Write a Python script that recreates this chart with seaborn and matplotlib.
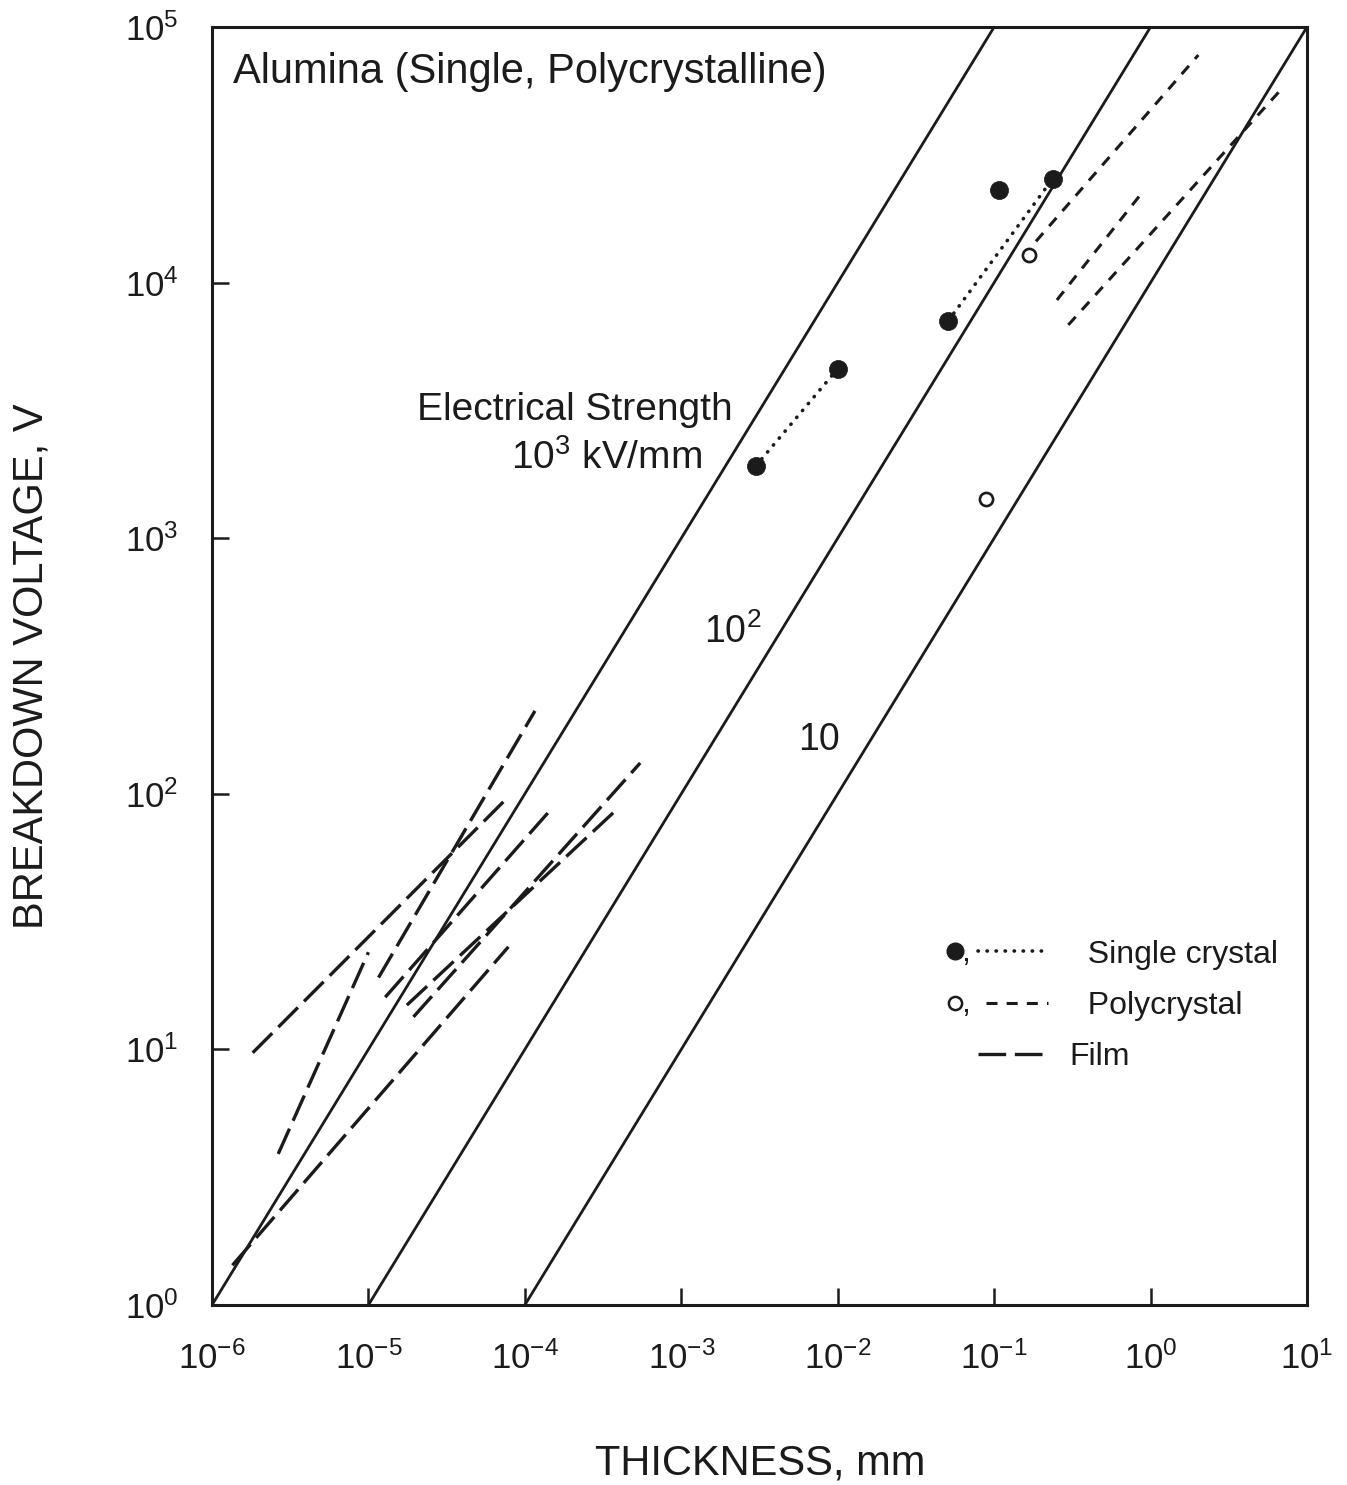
import numpy as np
import pandas as pd
import matplotlib
matplotlib.use("Agg")
import matplotlib.pyplot as plt
import seaborn as sns
from matplotlib.lines import Line2D
from matplotlib.text import Text
from matplotlib.legend_handler import HandlerBase
from matplotlib.ticker import NullLocator

# ---------------- data ----------------
# electrical strength reference lines (kV/mm): thickness (mm) / voltage (V) end points
strength_names = ["1e3", "1e2", "1e1"]
strength_t = [[1e-6, 1e-1], [1e-5, 1e0], [1e-4, 1e1]]
strength_v = [[1.0, 1e5], [1.0, 1e5], [1.0, 1e5]]

# single crystal points and dotted links
single_t = [3.0e-3, 1.0e-2, 5.1e-2, 1.07e-1, 2.37e-1]
single_v = [1.92e3, 4.6e3, 7.1e3, 2.3e4, 2.55e4]
single_link_t = [[3.0e-3, 1.0e-2], [5.1e-2, 2.37e-1]]
single_link_v = [[1.92e3, 4.6e3], [7.1e3, 2.55e4]]

# polycrystal points and dashed segments
poly_t = [1.66e-1, 8.9e-2]
poly_v = [1.28e4, 1.42e3]
poly_seg_t = [[0.185, 2.02], [0.252, 0.858], [0.298, 7.05]]
poly_seg_v = [[1.45e4, 7.77e4], [8.55e3, 2.2e4], [6.83e3, 5.82e4]]

# film segments (long dashes)
film_seg_t = [[1.82e-6, 7.8e-5], [2.65e-6, 1.0e-5], [1.16e-5, 1.16e-4],
              [1.28e-5, 1.52e-4], [1.76e-5, 3.96e-4], [1.94e-5, 5.46e-4],
              [1.35e-6, 7.85e-5]]
film_seg_v = [[9.7, 97.0], [3.9, 24.0], [19.1, 211.0],
              [16.0, 89.0], [14.9, 88.0], [13.4, 132.0],
              [1.43, 25.2]]

x_ticks = [1e-6, 1e-5, 1e-4, 1e-3, 1e-2, 1e-1, 1e0, 1e1]
y_ticks = [1e0, 1e1, 1e2, 1e3, 1e4, 1e5]

title_text = "Alumina (Single, Polycrystalline)"
x_label = "THICKNESS, mm"
y_label = "BREAKDOWN VOLTAGE, V"
legend_labels = ["  Single crystal", "  Polycrystal", "Film"]


def seg_frame(ts, vs):
    rows = []
    for i, (tt, vv) in enumerate(zip(ts, vs)):
        for a, b in zip(tt, vv):
            rows.append({"seg": i, "t": a, "v": b})
    return pd.DataFrame(rows)


INK = "#1b1b1b"

sns.set_theme(style="ticks")
plt.rcParams.update({
    "font.family": ["Liberation Sans", "DejaVu Sans"],
    "mathtext.fontset": "custom",
    "mathtext.rm": "Liberation Sans",
    "mathtext.it": "Liberation Sans:italic",
    "mathtext.bf": "Liberation Sans:bold",
    "mathtext.default": "regular",
    "axes.linewidth": 2.2,
    "axes.edgecolor": INK,
    "text.color": INK,
    "axes.labelcolor": INK,
    "xtick.color": INK,
    "ytick.color": INK,
})

fig = plt.figure(figsize=(13.47, 14.85), dpi=100)
ax = fig.add_axes([212 / 1347, 1 - 1305 / 1485, 1095 / 1347, 1278 / 1485])
ax.set_xscale("log")
ax.set_yscale("log")
ax.set_xlim(1e-6, 1e1)
ax.set_ylim(1, 1e5)

# strength lines
sns.lineplot(data=seg_frame(strength_t, strength_v), x="t", y="v", units="seg",
             estimator=None, sort=False, ax=ax, color=INK, lw=2.0, zorder=2)

# film lines
film_dash = (0, (8.3, 2.6))
sns.lineplot(data=seg_frame(film_seg_t, film_seg_v), x="t", y="v", units="seg",
             estimator=None, sort=False, ax=ax, color=INK, lw=2.4,
             linestyle=film_dash, zorder=3)

# polycrystal dashed lines
poly_dash = (0, (3.6, 3.0))
sns.lineplot(data=seg_frame(poly_seg_t, poly_seg_v), x="t", y="v", units="seg",
             estimator=None, sort=False, ax=ax, color=INK, lw=2.2,
             linestyle=poly_dash, zorder=3)

# single crystal dotted links
dot_style = (0, (0.1, 2.4))
sns.lineplot(data=seg_frame(single_link_t, single_link_v), x="t", y="v", units="seg",
             estimator=None, sort=False, ax=ax, color=INK, lw=2.6,
             linestyle=dot_style, dash_capstyle="round", zorder=3)

# markers
sns.scatterplot(x=single_t, y=single_v, ax=ax, s=170, color=INK,
                edgecolor=INK, linewidth=0.5, zorder=5)
sns.scatterplot(x=poly_t, y=poly_v, ax=ax, s=90, facecolor="white",
                edgecolor=INK, linewidth=1.9, zorder=5)

# axes formatting
ax.set_xticks(x_ticks)
ax.set_yticks(y_ticks)
ax.xaxis.set_minor_locator(NullLocator())
ax.yaxis.set_minor_locator(NullLocator())
ax.tick_params(which="major", direction="in", length=12, width=1.8,
               labelsize=25, top=False, right=False, bottom=True, left=True)
ax.tick_params(axis="x", pad=26)
ax.tick_params(axis="y", pad=24)
for s in ax.spines.values():
    s.set_visible(True)
    s.set_linewidth(2.2)

ax.set_xlabel(x_label, fontsize=30)
ax.set_ylabel(y_label, fontsize=30)
ax.xaxis.set_label_coords(0.5005, -0.108)
ax.yaxis.set_label_coords(-0.147, 0.5)

# text annotations
ax.text(0.0192, 0.9648, title_text, transform=ax.transAxes, fontsize=30,
        ha="left", va="center")
ax.text(0.4758, 0.7003, "Electrical Strength", transform=ax.transAxes,
        fontsize=28, ha="right", va="center")
ax.text(0.4475, 0.6628, r"$10^3$ kV/mm", transform=ax.transAxes,
        fontsize=28, ha="right", va="center")
ax.text(0.4758, 0.5266, r"$10^2$", transform=ax.transAxes,
        fontsize=27, ha="center", va="center")
ax.text(0.5543, 0.4421, "10", transform=ax.transAxes,
        fontsize=27, ha="center", va="center")


# legend with "marker, line" handles
class MarkCommaLine(HandlerBase):
    def __init__(self, marker_kw=None, line_kw=None, line_start=0.3, **kw):
        super().__init__(**kw)
        self.mk = marker_kw
        self.lk = line_kw
        self.ls0 = line_start

    def create_artists(self, legend, orig_handle, xdescent, ydescent,
                       width, height, fontsize, trans):
        x0 = -xdescent
        y = (height - ydescent) / 2.0
        arts = []
        if self.mk is not None:
            m = Line2D([x0 + 0.07 * width], [y], linestyle="none", **self.mk)
            c = Text(x0 + 0.13 * width, y - 0.42 * height, ",",
                     fontsize=fontsize, ha="left", va="baseline", color=INK)
            arts += [m, c]
        ln = Line2D([x0 + self.ls0 * width, x0 + width], [y, y], **self.lk)
        arts.append(ln)
        for a in arts:
            a.set_transform(trans)
        return arts


h1, h2, h3 = Line2D([], []), Line2D([], []), Line2D([], [])
hmap = {
    h1: MarkCommaLine(dict(marker="o", markersize=12, color=INK),
                      dict(color=INK, lw=2.6, linestyle=dot_style,
                           dash_capstyle="round"), line_start=0.3),
    h2: MarkCommaLine(dict(marker="o", markersize=9.5, markerfacecolor="white",
                           markeredgecolor=INK, markeredgewidth=1.8),
                      dict(color=INK, lw=2.2, linestyle=poly_dash), line_start=0.38),
    h3: MarkCommaLine(None, dict(color=INK, lw=2.4, linestyle=film_dash),
                      line_start=0.3),
}
ax.legend([h1, h2, h3], legend_labels, handler_map=hmap, frameon=False,
          fontsize=23, handlelength=3.1, handletextpad=0.7, labelspacing=0.67,
          borderpad=0, loc="center left", bbox_to_anchor=(0.658, 0.234))

fig.savefig("out.png", dpi=100)
